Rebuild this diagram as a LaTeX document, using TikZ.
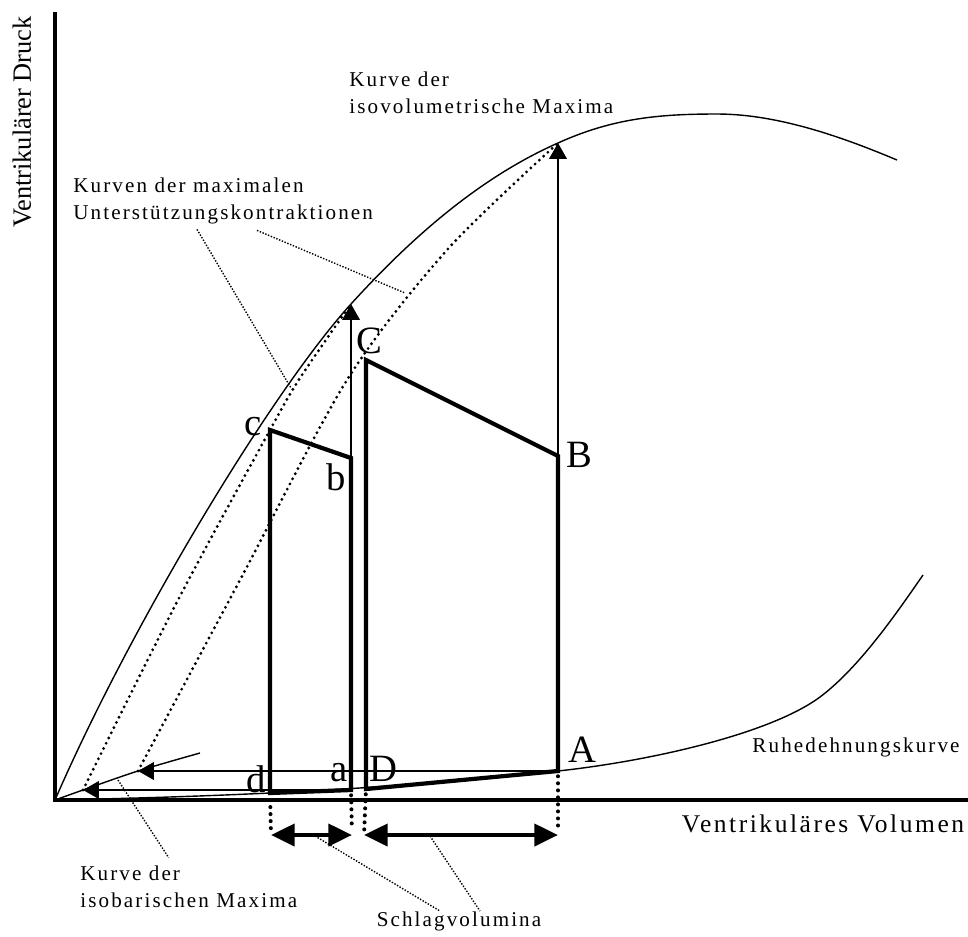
\documentclass[tikz,border=0pt]{standalone}
\usepackage{fontspec}
\setmainfont{Liberation Serif}
\newfontfamily\spaced[LetterSpace=10]{Liberation Serif}
\usetikzlibrary{arrows.meta}

\begin{document}
\begin{tikzpicture}[x=0.2mm,y=-0.2mm,
	thin line/.style={line width=0.8pt},
	loop line/.style={line width=2.4pt},
	arrow line/.style={line width=0.9pt,-{Triangle[length=9pt,width=10pt]}},
	span arrow/.style={line width=2.4pt,{Triangle[length=13.5pt,width=12.5pt]}-{Triangle[length=13.5pt,width=12.5pt]}},
	dotted curve/.style={line width=1.8pt,dash pattern=on 0pt off 3.3pt,line cap=round},
	drop line/.style={line width=2.3pt,dash pattern=on 0pt off 4pt,line cap=round},
	callout/.style={line width=0.8pt,dash pattern=on 0.8pt off 0.9pt},
	caption/.style={font=\spaced\fontsize{12}{15.3}\selectfont,align=left,inner sep=0pt},
	corner/.style={font=\fontsize{22}{22}\selectfont,inner sep=0pt}]
	\useasboundingbox (0,0) rectangle (968,936);

	% axes
	\coordinate (O) at (55,800);
	\draw[line width=2.2pt] (55,12) -- (O) -- (968,800);

	% corners of the two loops
	\coordinate (d) at (270,793);
	\coordinate (c) at (270,430);
	\coordinate (b) at (351,458);
	\coordinate (a) at (351,790);
	\coordinate (D) at (366,789);
	\coordinate (C) at (366,360);
	\coordinate (B) at (558,456);
	\coordinate (A) at (558,771);
	% maxima reached from a, A, b, B
	\coordinate (bmax) at (351,304);
	\coordinate (Bmax) at (558,143);
	\coordinate (amax) at (83,790);
	\coordinate (Amax) at (138,771);
	% feet of the stroke volumes
	\coordinate (dfoot) at (271,835);
	\coordinate (afoot) at (352,835);
	\coordinate (Dfoot) at (364,835);
	\coordinate (Afoot) at (558,835);

	% curves
	\draw[thin line] (O) .. controls (130,627) and (271,392) .. (bmax)
		.. controls (421,227) and (488,174) .. (Bmax)
		.. controls (613,118) and (660,114) .. (717,114)
		.. controls (780,114) and (847,139) .. (897,160);
	\draw[thin line] plot[smooth] coordinates {(O) (amax) (Amax) (200,753)};
	\draw[thin line] (O) .. controls (250,796) and (400,788) .. (A)
		.. controls (650,761) and (770,734) .. (820,697)
		.. controls (860,667) and (898,611) .. (923,575);
	\draw[dotted curve] plot[smooth] coordinates {(amax) (178,600) (c) (300,378) (bmax)};
	\draw[dotted curve] plot[smooth] coordinates {(Amax) (240,580) (347,380) (447,250) (Bmax)};

	% isovolumetric and isobaric arrows
	\draw[arrow line] (b) -- (bmax);
	\draw[arrow line] (B) -- (Bmax);
	\draw[arrow line] (a) -- (amax);
	\draw[arrow line] (A) -- (Amax);

	% loops
	\draw[loop line] (d) -- (c) -- (b) -- (a) -- cycle;
	\draw[loop line] (D) -- (C) -- (B) -- (A) -- cycle;

	% stroke volumes
	\draw[drop line,shorten <=4pt,shorten >=3pt] (d) -- (dfoot);
	\draw[drop line,shorten <=3pt,shorten >=3pt] (a) -- (afoot);
	\draw[drop line,shorten <=3pt,shorten >=3pt] (D) -- (Dfoot);
	\draw[drop line,shorten <=3pt,shorten >=3pt] (A) -- (Afoot);
	\draw[span arrow] (dfoot) -- (afoot);
	\draw[span arrow] (Dfoot) -- (Afoot);

	% labels
	\node[corner] at (253,427) {c};
	\node[corner] at (336,477) {b};
	\node[corner] at (369,341) {C};
	\node[corner] at (579,455) {B};
	\node[corner] at (339,773) {a};
	\node[corner] at (256,779) {d};
	\node[corner] at (383,769) {D};
	\node[corner] at (582,750) {A};

	\node[font=\fontsize{15}{18}\selectfont,rotate=90] (ylab) at (22,122) {Ventrikulärer Druck};
	\node[font=\spaced\fontsize{14.5}{17}\selectfont,inner sep=0pt] (xlab) at (823,824) {Ventrikuläres Volumen};
	\node[caption] (rest) at (856,747) {Ruhedehnungskurve};
	\node[caption,anchor=west] (isov) at (349,93) {Kurve der\\isovolumetrische Maxima};
	\node[caption,anchor=west] (kurven) at (73,201) {Kurven der maximalen\\Unterstützungskontraktionen};
	\node[caption,anchor=west] (isob) at (80,887) {Kurve der\\isobarischen Maxima};
	\node[caption] (sv) at (459,921) {Schlagvolumina};

	% callouts
	\draw[callout] ([xshift=24.8mm,yshift=-1mm]kurven.south west) -- (291,388);
	\draw[callout] ([xshift=36.8mm,yshift=-1.2mm]kurven.south west) -- (405,293);
	\draw[callout] (118,780) -- ([xshift=-4mm,yshift=1.6mm]isob.north);
	\draw[callout] (315,836) -- ([xshift=-3.8mm]sv.north);
	\draw[callout] (430,836) -- ([xshift=4.2mm]sv.north);
\end{tikzpicture}
\end{document}
